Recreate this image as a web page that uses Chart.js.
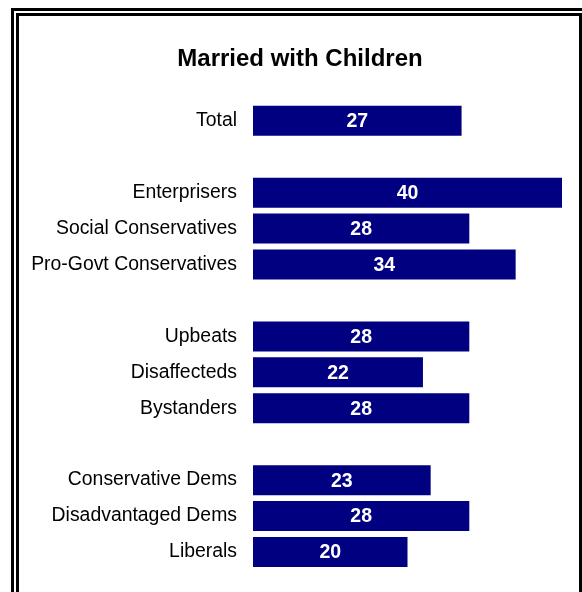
<!DOCTYPE html>
<html>
<head>
<meta charset="utf-8">
<script src="https://cdn.jsdelivr.net/npm/chart.js@4"></script>
<style>
  html, body { margin: 0; padding: 0; background: #fff; overflow: hidden; }
  #wrap { position: relative; width: 582px; height: 592px; }
  .frame { position: absolute; border: 3px solid #000; box-sizing: border-box; }
  #outer { left: 11px; top: 8px; width: 600px; height: 620px; }
  #inner { left: 16px; top: 13px; width: 566px; height: 620px; }
  canvas { position: absolute; left: 0; top: 0; }
</style>
</head>
<body>
<div id="wrap">
  <div class="frame" id="outer"></div>
  <div class="frame" id="inner"></div>
  <canvas id="grafico" width="582" height="592"></canvas>
</div>
<script>
// categorias (strings vazias = espaço entre grupos)
var categorias = ['Total', '', 'Enterprisers', 'Social Conservatives', 'Pro-Govt Conservatives', '',
    'Upbeats', 'Disaffecteds', 'Bystanders', '', 'Conservative Dems', 'Disadvantaged Dems', 'Liberals']
var valores = [27, null, 40, 28, 34, null, 28, 22, 28, null, 23, 28, 20]
var titulo = 'Married with Children'

// escreve o valor no meio de cada barra
const rotulosBarras = {
    id: 'rotulosBarras',
    afterLayout(chart) {
        // título centrado um pouco mais à direita, como no original
        if (chart.titleBlock) chart.titleBlock.left = 38
    },
    afterDatasetsDraw(chart) {
        const ctx = chart.ctx
        const meta = chart.getDatasetMeta(0)
        ctx.save()
        ctx.fillStyle = '#fff'
        ctx.font = 'bold 19.5px "Liberation Sans", Arial, sans-serif'
        ctx.textAlign = 'center'
        ctx.textBaseline = 'middle'
        meta.data.forEach(function (barra, i) {
            if (valores[i] == null) return
            var meio = (barra.base + barra.x) / 2
            ctx.fillText(valores[i], meio, barra.y + 1)
        })
        ctx.restore()
    }
}

const ctx = document.getElementById('grafico')

new Chart(ctx, {
    type: 'bar',
    data: {
        labels: categorias,
        datasets: [{
            data: valores,
            backgroundColor: '#000080',
            borderWidth: 0,
            barPercentage: 0.835,
            categoryPercentage: 1
        }]
    },
    options: {
        indexAxis: 'y',
        responsive: false,
        animation: false,
        layout: {
            padding: { left: 0, right: 20, top: 0, bottom: 22 }
        },
        plugins: {
            legend: { display: false },
            tooltip: { enabled: false },
            title: {
                display: true,
                text: titulo,
                color: '#000',
                font: { family: '"Liberation Sans", Arial, sans-serif', size: 24, weight: 'bold', lineHeight: 1.2 },
                padding: { top: 45, bottom: 29 }
            }
        },
        scales: {
            x: {
                display: false,
                min: 0,
                max: 40
            },
            y: {
                grid: { display: false, drawTicks: false },
                border: { display: false },
                ticks: {
                    color: '#000',
                    padding: 16,
                    font: { family: '"Liberation Sans", Arial, sans-serif', size: 19.4 }
                },
                afterFit: function (escala) {
                    escala.width = 253
                    escala.paddingTop = 0
                    escala.paddingBottom = 0
                }
            }
        }
    },
    plugins: [rotulosBarras]
});
</script>
</body>
</html>
